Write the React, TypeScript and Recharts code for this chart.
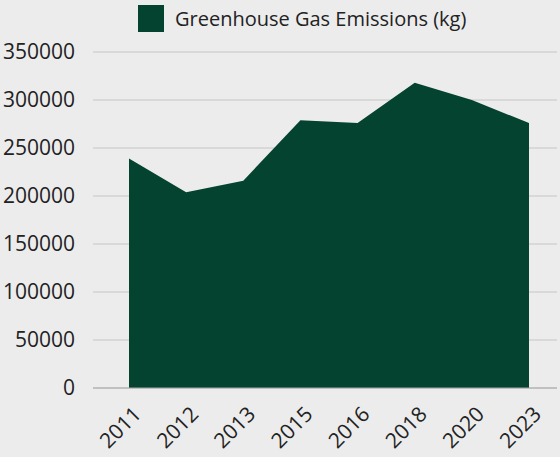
import { AreaChart, Area, XAxis, YAxis, CartesianGrid, Legend } from "recharts";

const years = ["2011", "2012", "2013", "2015", "2016", "2018", "2020", "2023"];
const emissions = [239000, 204000, 216000, 279000, 276000, 318000, 300000, 276000];
const yTicks = [0, 50000, 100000, 150000, 200000, 250000, 300000, 350000];

const data = years.map((year, i) => ({ year, emissions: emissions[i] }));

const GREEN = "#03432f";
const FONT = "'Open Sans', sans-serif";

function LegendBox() {
  return (
    <div style={{ height: 52, display: "flex", alignItems: "flex-start", paddingLeft: 138, paddingTop: 5, boxSizing: "border-box" }}>
      <div style={{ width: 26, height: 27, background: GREEN }} />
      <span style={{ marginLeft: 11, fontSize: 20, lineHeight: "27px", color: "#222", fontFamily: FONT }}>
        Greenhouse Gas Emissions (kg)
      </span>
    </div>
  );
}

export default function App() {
  return (
    <div style={{ position: "absolute", top: 0, left: 0, width: 560, height: 457, background: "#ececec", fontFamily: FONT }}>
      <AreaChart width={560} height={457} data={data} margin={{ top: 0, right: 3, bottom: 0, left: 0 }}>
        <Legend verticalAlign="top" align="left" content={<LegendBox />} wrapperStyle={{ left: 0, top: 0, width: 560 }} />
        <CartesianGrid vertical={false} stroke="#c6c6c6" />
        <XAxis
          dataKey="year"
          height={69}
          padding={{ left: 36, right: 28 }}
          tickLine={false}
          axisLine={{ stroke: "#a8a8a8" }}
          interval={0}
          angle={-45}
          textAnchor="end"
          tickMargin={11}
          tick={{ fill: "#222", fontSize: 21, fontFamily: FONT, dx: 3 }}
        />
        <YAxis
          width={93}
          domain={[0, 350000]}
          ticks={yTicks}
          tickLine={false}
          axisLine={false}
          tickSize={0}
          tickMargin={18}
          tick={{ fill: "#222", fontSize: 21, fontFamily: FONT }}
        />
        <Area
          type="linear"
          dataKey="emissions"
          stroke="none"
          fill={GREEN}
          fillOpacity={1}
          isAnimationActive={false}
        />
      </AreaChart>
    </div>
  );
}
